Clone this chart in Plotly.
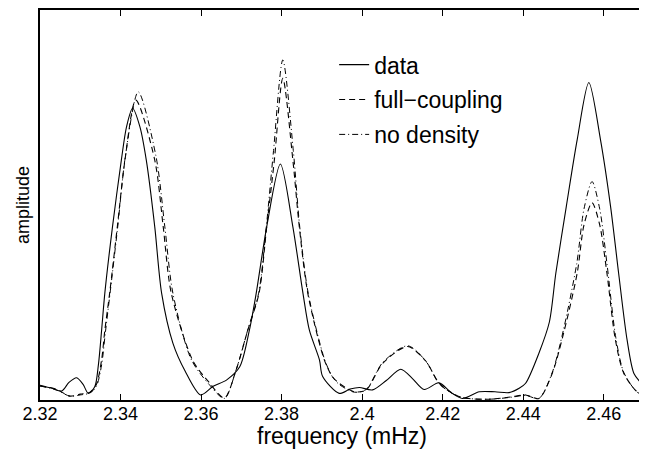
import plotly.graph_objects as go

# frequency (mHz) / amplitude (arbitrary units)
data_freq = [2.3200, 2.3230, 2.3254, 2.3272, 2.3291, 2.3307, 2.3320, 2.3336, 2.3345, 2.3353,
             2.3361, 2.3380, 2.3402, 2.3415, 2.3430, 2.3448, 2.3464, 2.3485, 2.3502, 2.3530,
             2.3560, 2.3599, 2.3630, 2.3663, 2.3696, 2.3720, 2.3737, 2.3763, 2.3797, 2.3828,
             2.3853, 2.3869, 2.3894, 2.3902, 2.3943, 2.3970, 2.3993, 2.4026, 2.4060, 2.4096,
             2.4125, 2.4154, 2.4191, 2.4220, 2.4249, 2.4291, 2.4330, 2.4365, 2.4390, 2.4406,
             2.4439, 2.4465, 2.4481, 2.4507, 2.4534, 2.4563, 2.4592, 2.4617, 2.4637, 2.4658,
             2.4675, 2.4695]
data_amp = [0.038, 0.030, 0.023, 0.045, 0.057, 0.040, 0.017, 0.034, 0.090, 0.179,
            0.274, 0.444, 0.615, 0.701, 0.748, 0.701, 0.615, 0.444, 0.274, 0.146,
            0.075, 0.013, 0.035, 0.051, 0.085, 0.179, 0.274, 0.444, 0.605, 0.444,
            0.274, 0.179, 0.103, 0.060, 0.017, 0.028, 0.032, 0.026, 0.050, 0.079,
            0.055, 0.027, 0.044, 0.020, 0.004, 0.021, 0.021, 0.019, 0.030, 0.043,
            0.120, 0.200, 0.325, 0.496, 0.667, 0.814, 0.667, 0.496, 0.325, 0.154,
            0.068, 0.041]

full_freq = [2.3200, 2.3240, 2.3274, 2.3300, 2.3324, 2.3340, 2.3353, 2.3361, 2.3373, 2.3392,
             2.3411, 2.3438, 2.3485, 2.3506, 2.3526, 2.3580, 2.3620, 2.3658, 2.3687, 2.3716,
             2.3744, 2.3763, 2.3782, 2.3803, 2.3828, 2.3844, 2.3865, 2.3906, 2.3926, 2.3943,
             2.3981, 2.4010, 2.4051, 2.4113, 2.4158, 2.4191, 2.4220, 2.4249, 2.4315, 2.4370,
             2.4406, 2.4439, 2.4472, 2.4500, 2.4534, 2.4551, 2.4571, 2.4590, 2.4608, 2.4629,
             2.4650, 2.4683, 2.4700]
full_amp = [0.036, 0.028, 0.010, 0.015, 0.020, 0.040, 0.103, 0.179, 0.274, 0.444,
            0.615, 0.769, 0.615, 0.444, 0.274, 0.100, 0.045, 0.005, 0.077, 0.179,
            0.274, 0.444, 0.615, 0.825, 0.615, 0.444, 0.274, 0.103, 0.060, 0.043,
            0.021, 0.026, 0.094, 0.137, 0.100, 0.043, 0.020, 0.006, 0.002, 0.008,
            0.013, 0.004, 0.068, 0.170, 0.325, 0.449, 0.506, 0.449, 0.325, 0.154,
            0.068, 0.021, 0.015]

nodens_freq = [2.3200, 2.3240, 2.3274, 2.3300, 2.3324, 2.3340, 2.3353, 2.3362, 2.3374, 2.3393,
               2.3412, 2.3444, 2.3488, 2.3510, 2.3530, 2.3576, 2.3620, 2.3658, 2.3687, 2.3716,
               2.3743, 2.3762, 2.3780, 2.3803, 2.3829, 2.3845, 2.3866, 2.3907, 2.3926, 2.3943,
               2.3981, 2.4010, 2.4051, 2.4113, 2.4158, 2.4191, 2.4220, 2.4249, 2.4315, 2.4370,
               2.4406, 2.4439, 2.4472, 2.4500, 2.4533, 2.4551, 2.4571, 2.4590, 2.4608, 2.4630,
               2.4650, 2.4683, 2.4700]
nodens_amp = [0.036, 0.026, 0.010, 0.013, 0.018, 0.035, 0.090, 0.170, 0.274, 0.444,
              0.625, 0.790, 0.625, 0.444, 0.274, 0.103, 0.040, 0.004, 0.077, 0.180,
              0.274, 0.444, 0.640, 0.872, 0.640, 0.444, 0.274, 0.103, 0.060, 0.040,
              0.020, 0.027, 0.096, 0.139, 0.100, 0.042, 0.019, 0.006, 0.002, 0.007,
              0.012, 0.004, 0.070, 0.180, 0.350, 0.490, 0.560, 0.490, 0.350, 0.160,
              0.070, 0.020, 0.013]

x_ticks = [2.32, 2.34, 2.36, 2.38, 2.40, 2.42, 2.44, 2.46]
x_ticklabels = ['2.32', '2.34', '2.36', '2.38', '2.4', '2.42', '2.44', '2.46']

font = 'Liberation Sans, Arial, sans-serif'

fig = go.Figure()

fig.add_trace(go.Scatter(x=data_freq, y=data_amp, name='data', mode='lines',
                         line=dict(color='black', width=1.1, shape='spline', smoothing=0.8),
                         legendgroup='a'))
fig.add_trace(go.Scatter(x=full_freq, y=full_amp, name='full\u2212coupling', mode='lines',
                         line=dict(color='black', width=1.1, dash='6px,4px', shape='spline', smoothing=0.8),
                         legendgroup='b'))
fig.add_trace(go.Scatter(x=nodens_freq, y=nodens_amp, name='no density', mode='lines',
                         line=dict(color='black', width=1.0, dash='6px,3px,1px,3px', shape='spline', smoothing=0.8),
                         legendgroup='c'))

# the page body adds an 8px offset, so the figure is 8px smaller than the window
fig.update_layout(
    width=639, height=441,
    margin=dict(l=32, r=3, t=2, b=49),
    paper_bgcolor='white', plot_bgcolor='white',
    font=dict(family=font, size=18, color='black'),
    showlegend=True,
    legend=dict(x=0.487, y=0.915, xanchor='left', yanchor='top',
                bgcolor='rgba(0,0,0,0)', borderwidth=0,
                font=dict(family=font, size=23, color='black'),
                tracegroupgap=2, itemwidth=30),
)

fig.update_xaxes(
    range=[2.32, 2.47], tickvals=x_ticks, ticktext=x_ticklabels,
    ticks='inside', ticklen=6, tickcolor='black', tickwidth=1,
    showline=True, linecolor='black', linewidth=1.5, mirror='ticks',
    showgrid=False, zeroline=False, automargin=False,
    tickfont=dict(family=font, size=18), ticklabelstandoff=-3,
    title=dict(text='frequency (mHz)', font=dict(family=font, size=23), standoff=0),
)
fig.update_yaxes(
    range=[0, 1], showticklabels=False, ticks='',
    showline=True, linecolor='black', linewidth=1.5, mirror=True,
    showgrid=False, zeroline=False, automargin=False,
    title=dict(text='amplitude', font=dict(family=font, size=18), standoff=4),
)

fig.write_html("out.html")
